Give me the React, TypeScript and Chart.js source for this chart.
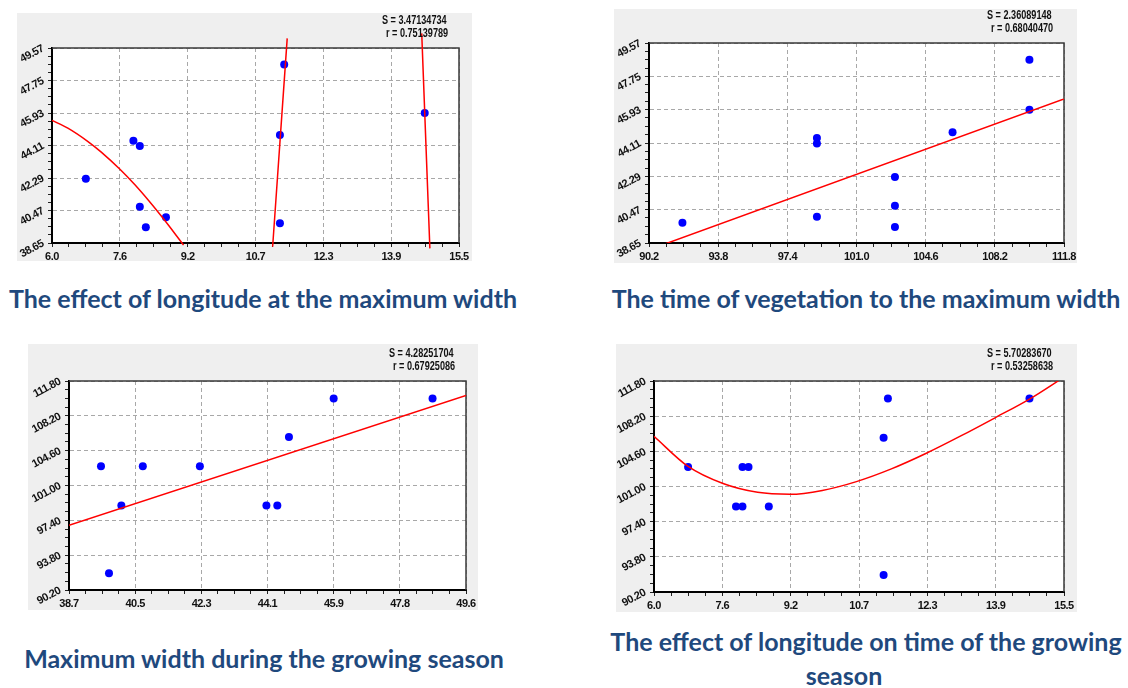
import React, { useEffect, useRef } from 'react';
import { Chart, registerables } from 'chart.js';

Chart.register(...registerables);

// Observations per station
const longitude = [6.79, 7.9, 8.05, 8.05, 8.19, 8.66, 11.32, 11.32, 11.42, 14.7];
const maxWidth = [42.25, 44.38, 44.08, 40.68, 39.53, 40.09, 44.7, 39.75, 48.65, 45.93];
const seasonDays = [103.0, 98.94, 98.94, 103.0, 103.0, 98.94, 106.0, 91.94, 110.0, 110.0];

// Axis ranges
const lonRange: [number, number] = [6.0, 15.5];
const widthRange: [number, number] = [38.65, 49.57];
const seasonRange: [number, number] = [90.2, 111.8];

// Axis tick labels
const lonTicks = ['6.0', '7.6', '9.2', '10.7', '12.3', '13.9', '15.5'];
const widthTicks = ['38.65', '40.47', '42.29', '44.11', '45.93', '47.75', '49.57'];
const widthTicksShort = ['38.7', '40.5', '42.3', '44.1', '45.9', '47.8', '49.6'];
const seasonTicks = ['90.20', '93.80', '97.40', '101.00', '104.60', '108.20', '111.80'];
const seasonTicksShort = ['90.2', '93.8', '97.4', '101.0', '104.6', '108.2', '111.8'];

// Fitted curve: longitude vs maximum width (three branches)
const lonWidthFitAX = [6.0, 6.37, 6.84, 7.15, 7.58, 7.93, 8.25, 8.56, 8.87, 9.07];
const lonWidthFitAY = [45.52, 45.08, 44.33, 43.74, 42.79, 41.92, 41.04, 40.13, 39.17, 38.53];
const lonWidthFitBX = [11.15, 11.49];
const lonWidthFitBY = [38.44, 50.11];
const lonWidthFitCX = [14.63, 14.82];
const lonWidthFitCY = [50.39, 38.35];

// Fitted line: season length vs maximum width
const seasonWidthFitX = [90.2, 111.8];
const seasonWidthFitY = [38.28, 46.52];

// Fitted line: maximum width vs season length
const widthSeasonFitX = [38.65, 49.57];
const widthSeasonFitY = [96.9, 110.3];

// Fitted curve: longitude vs season length
const lonSeasonFitX = [6.0, 6.79, 7.6, 8.4, 9.15, 9.9, 10.69, 11.5, 12.31, 13.12, 13.93, 14.7, 15.5];
const lonSeasonFitY = [106.14, 103.05, 101.3, 100.4, 100.2, 100.6, 101.5, 102.8, 104.4, 106.2, 108.1, 109.95, 112.2];

// Fit statistics
const lonWidthStats = ['S = 3.47134734', 'r = 0.75139789'];
const seasonWidthStats = ['S = 2.36089148', 'r = 0.68040470'];
const widthSeasonStats = ['S = 4.28251704', 'r = 0.67925086'];
const lonSeasonStats = ['S = 5.70283670', 'r = 0.53258638'];

type Curve = { x: number[]; y: number[] };
type Box = { left: number; top: number; width: number; height: number };
type Margins = { l: number; t: number; r: number; b: number };
type PanelSpec = {
  xs: number[];
  ys: number[];
  xRange: [number, number];
  yRange: [number, number];
  xLabels: string[];
  yLabels: string[];
  curves: Curve[];
  clipCurves: boolean;
  stats: string[];
  box: Box;
  margins: Margins;
};

const panels: PanelSpec[] = [
  {
    xs: longitude,
    ys: maxWidth,
    xRange: lonRange,
    yRange: widthRange,
    xLabels: lonTicks,
    yLabels: widthTicks,
    curves: [
      { x: lonWidthFitAX, y: lonWidthFitAY },
      { x: lonWidthFitBX, y: lonWidthFitBY },
      { x: lonWidthFitCX, y: lonWidthFitCY },
    ],
    clipCurves: false,
    stats: lonWidthStats,
    box: { left: 17, top: 13, width: 455, height: 248 },
    margins: { l: 35, t: 35, r: 13, b: 18 },
  },
  {
    xs: seasonDays,
    ys: maxWidth,
    xRange: seasonRange,
    yRange: widthRange,
    xLabels: seasonTicksShort,
    yLabels: widthTicks,
    curves: [{ x: seasonWidthFitX, y: seasonWidthFitY }],
    clipCurves: true,
    stats: seasonWidthStats,
    box: { left: 614, top: 9, width: 463, height: 254 },
    margins: { l: 35, t: 34, r: 13, b: 20 },
  },
  {
    xs: maxWidth,
    ys: seasonDays,
    xRange: widthRange,
    yRange: seasonRange,
    xLabels: widthTicksShort,
    yLabels: seasonTicks,
    curves: [{ x: widthSeasonFitX, y: widthSeasonFitY }],
    clipCurves: true,
    stats: widthSeasonStats,
    box: { left: 28, top: 344, width: 450, height: 266 },
    margins: { l: 41, t: 37, r: 12, b: 20 },
  },
  {
    xs: longitude,
    ys: seasonDays,
    xRange: lonRange,
    yRange: seasonRange,
    xLabels: lonTicks,
    yLabels: seasonTicks,
    curves: [{ x: lonSeasonFitX, y: lonSeasonFitY }],
    clipCurves: true,
    stats: lonSeasonStats,
    box: { left: 616, top: 344, width: 461, height: 268 },
    margins: { l: 38, t: 37, r: 13, b: 20 },
  },
];

const captions = [
  { text: 'The effect of longitude at the maximum width', cx: 263, top: 286 },
  { text: 'The time of vegetation to the maximum width', cx: 866, top: 286 },
  { text: 'Maximum width during the growing season', cx: 264, top: 646 },
  { text: 'The effect of longitude on time of the growing', cx: 866, top: 629 },
  { text: 'season', cx: 844, top: 663 },
];

const MINOR = 4;
const MAJOR = 6;

function axisTicks(range: [number, number]) {
  const n = MAJOR * MINOR;
  return Array.from({ length: n + 1 }, (_, i) => ({ value: range[0] + ((range[1] - range[0]) * i) / n }));
}

const tickFont = {
  family: '"Liberation Sans Narrow", "Liberation Sans", Arial, sans-serif',
  size: 11,
  weight: 'bold' as const,
};

const decorPlugin = {
  id: 'panelDecor',
  beforeDraw(chart: any) {
    const { ctx, width, height, chartArea } = chart;
    ctx.save();
    ctx.fillStyle = '#efefef';
    ctx.fillRect(0, 0, width, height);
    ctx.fillStyle = '#ffffff';
    ctx.fillRect(chartArea.left, chartArea.top, chartArea.right - chartArea.left, chartArea.bottom - chartArea.top);
    ctx.restore();
    ctx.letterSpacing = '-0.5px';
  },
  beforeDatasetsDraw(chart: any) {
    const { ctx, chartArea } = chart;
    ctx.save();
    ctx.strokeStyle = '#3a3a3a';
    ctx.lineWidth = 1.5;
    ctx.beginPath();
    ctx.moveTo(chartArea.left, chartArea.top);
    ctx.lineTo(chartArea.right, chartArea.top);
    ctx.lineTo(chartArea.right, chartArea.bottom);
    ctx.stroke();
    ctx.restore();
  },
  afterDraw(chart: any, _args: any, opts: any) {
    const { ctx, chartArea } = chart;
    const lines: string[] = opts.lines || [];
    ctx.save();
    ctx.letterSpacing = '0px';
    ctx.font = 'bold 12px "Liberation Sans", Arial, sans-serif';
    ctx.fillStyle = '#111111';
    ctx.textBaseline = 'middle';
    ctx.textAlign = 'left';
    lines.forEach((t, i) => {
      ctx.save();
      ctx.translate(chartArea.right - 77 + i * 4, chartArea.top - 27 + i * 13);
      ctx.scale(0.76, 1);
      ctx.fillText(t, 0, 0);
      ctx.restore();
    });
    ctx.restore();
  },
};

function ScatterPanel({ spec }: { spec: PanelSpec }) {
  const ref = useRef<HTMLCanvasElement>(null);

  useEffect(() => {
    const canvas = ref.current;
    if (!canvas) return;
    const m = spec.margins;
    const gridColor = (c: any) => (c.index % MINOR === 0 ? '#a8a8a8' : 'rgba(0,0,0,0)');

    const curveSets = spec.curves.map((c) => {
      const ds: any = {
        data: c.x.map((x, i) => ({ x, y: c.y[i] })),
        showLine: true,
        borderColor: '#ff0000',
        borderWidth: 1.5,
        pointRadius: 0,
        pointHoverRadius: 0,
        cubicInterpolationMode: 'monotone',
        order: 0,
      };
      if (!spec.clipCurves) ds.clip = false;
      return ds;
    });

    const chart = new Chart(canvas, {
      type: 'scatter',
      data: {
        datasets: [
          ...curveSets,
          {
            data: spec.xs.map((x, i) => ({ x, y: spec.ys[i] })),
            backgroundColor: '#0000ff',
            borderWidth: 0,
            pointRadius: 4,
            pointHoverRadius: 4,
            order: 1,
          },
        ],
      },
      options: {
        responsive: false,
        maintainAspectRatio: false,
        animation: false,
        events: [],
        layout: { padding: { left: 0, top: m.t, right: m.r, bottom: 0 } },
        plugins: {
          legend: { display: false },
          tooltip: { enabled: false },
          title: { display: false },
          panelDecor: { lines: spec.stats },
        } as any,
        scales: {
          x: {
            type: 'linear',
            min: spec.xRange[0],
            max: spec.xRange[1],
            afterBuildTicks: (s: any) => {
              s.ticks = axisTicks(spec.xRange);
            },
            afterFit: (s: any) => {
              s.height = m.b;
              s.paddingLeft = 0;
              s.paddingRight = 0;
            },
            ticks: {
              autoSkip: false,
              minRotation: 0,
              maxRotation: 0,
              padding: 3,
              color: '#111111',
              font: tickFont,
              callback: (_v: any, i: number) => (i % MINOR === 0 ? spec.xLabels[i / MINOR] : ''),
            },
            grid: {
              color: gridColor,
              lineWidth: 1,
              drawTicks: true,
              tickLength: 4,
              tickColor: '#222222',
              tickWidth: 1,
            },
            border: { display: true, color: '#000000', width: 2, dash: [4, 3] },
          },
          y: {
            type: 'linear',
            min: spec.yRange[0],
            max: spec.yRange[1],
            afterBuildTicks: (s: any) => {
              s.ticks = axisTicks(spec.yRange);
            },
            afterFit: (s: any) => {
              s.width = m.l;
              s.paddingTop = 0;
              s.paddingBottom = 0;
            },
            ticks: {
              autoSkip: false,
              minRotation: 28,
              maxRotation: 28,
              padding: 5,
              color: '#111111',
              font: tickFont,
              callback: (_v: any, i: number) => (i % MINOR === 0 ? spec.yLabels[i / MINOR] : ''),
            },
            grid: {
              color: gridColor,
              lineWidth: 1,
              drawTicks: true,
              tickLength: 4,
              tickColor: '#222222',
              tickWidth: 1,
            },
            border: { display: true, color: '#000000', width: 2, dash: [4, 3] },
          },
        },
      } as any,
      plugins: [decorPlugin],
    });

    return () => chart.destroy();
  }, [spec]);

  const b = spec.box;
  return (
    <canvas
      ref={ref}
      width={b.width}
      height={b.height}
      style={{ position: 'absolute', left: b.left, top: b.top, width: b.width, height: b.height }}
    />
  );
}

export default function App() {
  return (
    <div style={{ position: 'absolute', left: 0, top: 0, width: 1128, height: 688, background: '#ffffff', overflow: 'hidden' }}>
      {panels.map((p, i) => (
        <ScatterPanel key={i} spec={p} />
      ))}
      {captions.map((c, i) => (
        <div
          key={i}
          style={{
            position: 'absolute',
            left: c.cx - 350,
            top: c.top,
            width: 700,
            textAlign: 'center',
            whiteSpace: 'nowrap',
            fontFamily: 'Lato, "Open Sans", sans-serif',
            fontWeight: 700,
            fontSize: 25,
            lineHeight: '25px',
            color: '#1f497d',
          }}
        >
          {c.text}
        </div>
      ))}
    </div>
  );
}
